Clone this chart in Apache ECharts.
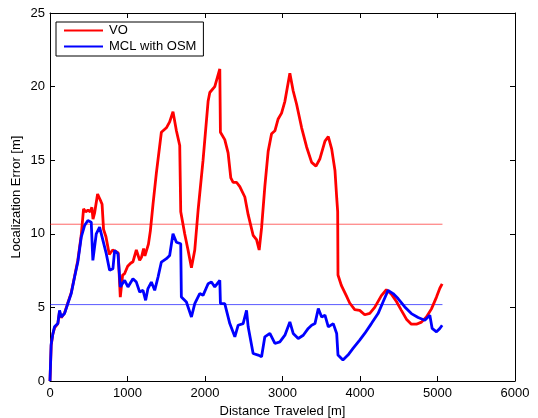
<!DOCTYPE html>
<html><head><meta charset="utf-8">
<script src="https://cdn.jsdelivr.net/npm/echarts@6/dist/echarts.min.js"></script>
<style>html,body{margin:0;padding:0;background:#fff}#c{width:538px;height:418px}</style>
</head><body><div id="c"></div>
<script>
var xTicks = [0,1000,2000,3000,4000,5000,6000];
var yTicks = [0,5,10,15,20,25];
var voDist = [0,15,37,58,101,123,145,187,230,274,317,359,403,433,460,490,520,540,555,575,614,640,657,672,691,722,765,790,808,829,850,880,907,937,963,1002,1040,1070,1114,1135,1157,1180,1208,1225,1243,1270,1295,1329,1372,1437,1502,1544,1587,1631,1674,1687,1738,1781,1825,1868,1911,1975,2040,2062,2126,2191,2199,2255,2298,2333,2363,2406,2449,2514,2557,2621,2665,2699,2730,2772,2815,2859,2902,2944,2988,3031,3095,3138,3182,3247,3311,3376,3432,3483,3548,3591,3635,3677,3700,3712,3716,3759,3823,3867,3932,3996,4061,4126,4190,4276,4340,4405,4470,4534,4599,4663,4728,4793,4857,4922,4987,5030,5060];
var voErr = [0,2.4,3.2,3.6,3.9,4.7,4.3,4.6,5.3,6.0,7.1,8.2,9.9,11.7,11.5,11.6,11.5,11.8,11.0,11.4,12.7,12.4,12.2,12.0,10.3,9.8,8.6,8.5,8.9,9.0,8.8,8.7,5.7,7.2,7.3,7.8,8.0,8.1,8.9,8.8,8.2,8.4,9.0,8.5,8.5,9.3,10.2,12.0,14.1,16.9,17.2,17.6,18.3,17.0,16.0,11.5,10.0,8.9,7.7,8.9,11.6,15.0,19.0,19.6,20.0,21.2,16.9,16.4,15.5,13.8,13.5,13.5,13.2,12.5,11.3,9.9,9.6,8.9,10.4,13.2,15.6,16.8,17.0,17.8,18.2,19.0,20.9,19.7,18.8,17.2,15.9,14.85,14.6,15.1,16.3,16.6,15.75,14.3,12.4,11.5,7.2,6.5,5.8,5.3,4.85,4.8,4.5,4.6,5.0,5.8,6.2,5.9,5.4,4.8,4.2,3.86,3.86,4.0,4.35,4.9,5.7,6.3,6.6];
var mclDist = [0,15,37,58,101,123,145,187,230,274,317,359,403,446,489,532,553,597,640,683,726,769,812,834,877,907,963,1006,1070,1114,1157,1200,1234,1264,1308,1351,1394,1437,1502,1544,1587,1631,1687,1695,1760,1825,1868,1932,1975,2040,2083,2126,2191,2199,2255,2320,2385,2428,2492,2536,2557,2621,2686,2730,2772,2837,2902,2966,3031,3095,3138,3203,3268,3332,3376,3419,3462,3505,3548,3591,3655,3699,3716,3780,3845,3910,3996,4061,4147,4233,4297,4362,4427,4491,4578,4663,4750,4836,4901,4931,4987,5030,5060];
var mclErr = [0,2.5,3.2,3.68,3.9,4.8,4.35,4.58,5.26,5.94,7.06,8.08,9.77,10.56,10.9,10.79,8.19,10.0,10.45,9.55,8.65,7.52,7.63,8.87,8.65,6.39,6.84,6.39,6.95,6.72,6.05,6.16,5.48,6.28,6.72,6.16,7.06,8.08,8.31,8.53,10.0,9.43,9.32,5.71,5.37,4.35,5.26,5.94,5.82,6.61,6.72,6.39,6.84,5.26,5.26,3.9,3.0,3.79,3.9,4.8,3.68,1.87,1.76,1.65,3.0,3.23,2.55,2.66,3.11,4.01,3.23,2.89,3.11,3.57,3.79,3.9,4.92,4.35,4.47,3.68,3.9,3.23,1.76,1.42,1.76,2.21,2.78,3.23,3.9,4.58,5.37,6.16,5.94,5.6,5.03,4.58,4.31,4.13,4.47,3.57,3.34,3.57,3.79];
var voMean = 10.65;
var mclMean = 5.19;
var meanEnd = 5064;

function pairs(xs, ys){ return xs.map(function(x,i){return [x, ys[i]];}); }
var font = 'Liberation Sans, Arial, sans-serif';
var chart = echarts.init(document.getElementById('c'));
function axisCommon(extra){
  return Object.assign({
    axisLine:{show:true,onZero:false,lineStyle:{color:'#000',width:1}},
    axisTick:{show:true,inside:true,length:5,lineStyle:{color:'#000'}},
    splitLine:{show:false}
  }, extra);
}
var lbl = {fontFamily:font,fontSize:13,color:'#000'};
chart.setOption({
  animation:false,
  backgroundColor:'#fff',
  grid:{left:50,right:23,top:13,bottom:37,show:false,outerBoundsMode:'none',containLabel:false},
  legend:{
    data:['VO','MCL with OSM'],
    orient:'vertical', left:56, top:22,
    borderColor:'#000', borderWidth:1, borderRadius:0,
    padding:[2,7,3,7], itemGap:3, itemWidth:39, itemHeight:14,
    itemStyle:{opacity:0},
    textStyle:{fontFamily:font,fontSize:13,color:'#000',padding:[0,0,0,1]},
    backgroundColor:'#fff'
  },
  xAxis:[
    axisCommon({type:'value',min:0,max:6000,interval:1000,position:'bottom',
      name:'Distance Traveled [m]',nameLocation:'middle',nameGap:23,
      nameTextStyle:lbl,
      axisLabel:Object.assign({margin:6,formatter:function(v){return String(v);}},lbl)}),
    axisCommon({type:'value',min:0,max:6000,interval:1000,position:'top',axisLabel:{show:false}})
  ],
  yAxis:[
    axisCommon({type:'value',min:0,max:25,interval:5,position:'left',
      name:'Localization Error [m]',nameLocation:'middle',nameGap:27,nameMoveOverlap:false,
      nameTextStyle:lbl,
      axisLabel:Object.assign({margin:5,formatter:function(v){return String(v);}},lbl)}),
    axisCommon({type:'value',min:0,max:25,interval:5,position:'right',axisLabel:{show:false}})
  ],
  series:[
    {name:'VO mean',type:'line',symbol:'none',data:[[0,voMean],[meanEnd,voMean]],
      lineStyle:{color:'rgba(255,0,0,0.6)',width:1},silent:true},
    {name:'MCL mean',type:'line',symbol:'none',data:[[0,mclMean],[meanEnd,mclMean]],
      lineStyle:{color:'rgba(0,0,255,0.65)',width:1},silent:true},
    {name:'VO',type:'line',symbol:'none',data:pairs(voDist,voErr),color:'#ff0000',
      lineStyle:{color:'#ff0000',width:2.8}},
    {name:'MCL with OSM',type:'line',symbol:'none',data:pairs(mclDist,mclErr),color:'#0000ff',
      lineStyle:{color:'#0000ff',width:2.8}}
  ]
});
</script></body></html>
